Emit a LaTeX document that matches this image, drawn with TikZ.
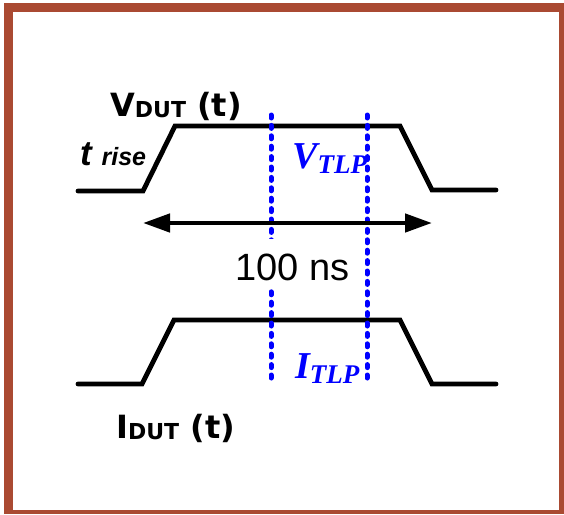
\documentclass[tikz,border=0pt]{standalone}
\usepackage{fontspec}
\setmainfont{Liberation Sans}
\newfontfamily\vfont{DejaVu Sans}
\newfontfamily\serifbi{Liberation Serif}
\usetikzlibrary{arrows.meta}
\definecolor{framec}{RGB}{170,74,50}
\definecolor{tlpblue}{RGB}{0,0,255}
\begin{document}
\begin{tikzpicture}[x=1pt,y=-1pt,
  wave/.style={line width=4.8pt,line join=miter,line cap=round},
  dotline/.style={tlpblue,line width=5pt,line cap=round,dash pattern=on 3pt off 7.4pt},
  lbl/.style={inner sep=0pt,anchor=base west}]
\useasboundingbox (0,0) rectangle (564,514);
% frame
\fill[framec] (4,3) rectangle (564,514);
\fill[white] (13,12) rectangle (559,510);
% waveforms
\draw[wave] (78,191) coordinate (v0) -- (143,191) -- (175,126) -- (400,126) -- (432,190) -- (496,190) coordinate (v1);
\draw[wave] (78,384) coordinate (i0) -- (142,384) -- (174,320) -- (400,320) -- (432,384) -- (496,384) coordinate (i1);
% dotted markers
\coordinate (d1t) at (271,115); \coordinate (d1b) at (271,384);
\coordinate (d2t) at (367,115); \coordinate (d2b) at (367,384);
\draw[dotline] (d1t) -- (d1b);
\draw[dotline] (d2t) -- (d2b);
% arrow
\coordinate (aL) at (143,223); \coordinate (aR) at (432,223);
\draw[line width=4.5pt,{Triangle[length=27pt,width=18pt]}-{Triangle[length=27pt,width=18pt]}] (aL) -- (aR);
% labels
\node[lbl] (vdut) at (110,116) {\vfont\bfseries\fontsize{32}{32}\selectfont V\raisebox{-1pt}{\fontsize{22}{22}\selectfont DUT} (t)};
\node[lbl] (trise) at (80,165) {\bfseries\itshape\fontsize{35}{35}\selectfont t \fontsize{25}{25}\selectfont rise};
\node[lbl,text=tlpblue] (vtlp) at (292,168) {\serifbi\bfseries\itshape\fontsize{38}{38}\selectfont V\raisebox{-5pt}{\fontsize{27}{27}\selectfont TLP}};
\node[lbl,fill=white,inner xsep=1pt,text height=41pt,text depth=7pt] (ns) at (234,280) {\fontsize{38}{38}\selectfont 100 ns};
\node[lbl,text=tlpblue] (itlp) at (295,378) {\serifbi\bfseries\itshape\fontsize{38}{38}\selectfont I\raisebox{-5pt}{\fontsize{27}{27}\selectfont TLP}};
\node[lbl] (idut) at (116,438) {\vfont\bfseries\fontsize{32}{32}\selectfont I\raisebox{-1pt}{\fontsize{22}{22}\selectfont DUT} (t)};
\end{tikzpicture}
\end{document}
